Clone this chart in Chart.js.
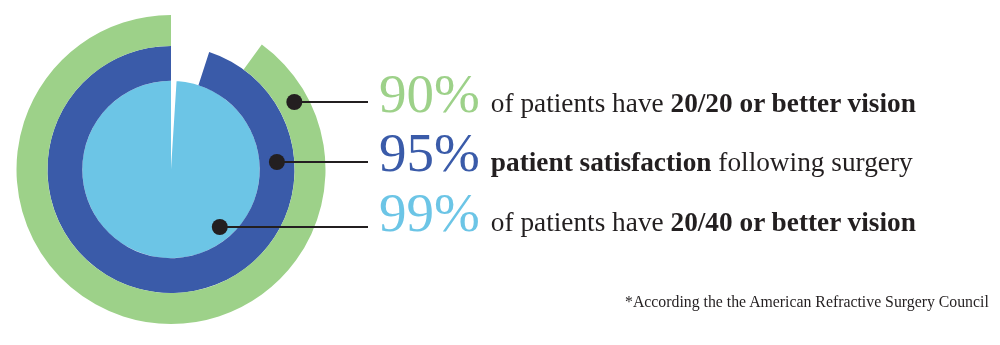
<!DOCTYPE html>
<html>
<head>
<meta charset="utf-8">
<script src="https://cdn.jsdelivr.net/npm/chart.js@4"></script>
<style>
    html, body { margin: 0; padding: 0; background: #fff; }
    #wrap { position: relative; width: 1000px; height: 345px; overflow: hidden; }
    #rings { position: absolute; left: 0; top: 0; }
    .row {
        position: absolute; left: 379px; white-space: nowrap;
        font-family: "Liberation Serif", "DejaVu Serif", serif;
        font-size: 55px; line-height: 55px; color: #231f20;
    }
    .row .pct { font-size: 55px; }
    .row .txt { font-size: 27.3px; margin-left: 11px; }
    .row b { font-weight: bold; }
    #note {
        position: absolute; left: 625px; top: 293px; white-space: nowrap;
        font-family: "Liberation Serif", "DejaVu Serif", serif;
        font-size: 15.8px; color: #231f20;
    }
</style>
</head>
<body>
<div id="wrap">
    <canvas id="rings" width="1000" height="345"></canvas>
    <div class="row" id="row0" style="top:66px"><span class="pct" style="color:#9dd189">90%</span><span class="txt">of patients have <b>20/20 or better vision</b></span></div>
    <div class="row" id="row1" style="top:125px"><span class="pct" style="color:#3a5ba9">95%</span><span class="txt"><b>patient satisfaction</b> following surgery</span></div>
    <div class="row" id="row2" style="top:185px"><span class="pct" style="color:#6cc5e6">99%</span><span class="txt">of patients have <b>20/40 or better vision</b></span></div>
    <div id="note">*According the the American Refractive Surgery Council</div>
</div>
<script>
// values (outer ring first)
const seriesNames = ["20/20 or better vision", "patient satisfaction", "20/40 or better vision"];
const percents = [90, 95, 99];
const ringColors = ["#9dd189", "#3a5ba9", "#6cc5e6"];

// ring thickness (outer -> inner) and leader layout
const ringWeights = [31, 35, 89];
const leaderY = [102, 162, 227];
const leaderDepth = [0.55, 0.5, 0.85]; // where the dot sits inside each ring
const leaderEndX = 368;

// draws the black dots + horizontal lines out to the text
const leaderPlugin = {
    id: "leaders",
    afterDraw(chart) {
        let ctx = chart.ctx;
        ctx.save();
        ctx.strokeStyle = "#231f20";
        ctx.fillStyle = "#231f20";
        ctx.lineWidth = 2;
        chart.data.datasets.forEach((ds, i) => {
            let arc = chart.getDatasetMeta(i).data[1];
            let p = arc.getProps(["x", "y", "innerRadius", "outerRadius"], true);
            let r = p.innerRadius + leaderDepth[i] * (p.outerRadius - p.innerRadius);
            let dy = leaderY[i] - p.y;
            let dx = Math.sqrt(Math.max(r * r - dy * dy, 0));
            let x = p.x + dx;
            ctx.beginPath();
            ctx.moveTo(x, leaderY[i]);
            ctx.lineTo(leaderEndX, leaderY[i]);
            ctx.stroke();
            ctx.beginPath();
            ctx.arc(x, leaderY[i], 8, 0, Math.PI * 2);
            ctx.fill();
        });
        ctx.restore();
    }
};

let ctx = document.getElementById("rings").getContext("2d");
new Chart(ctx, {
    type: "doughnut",
    data: {
        labels: ["gap", "value"],
        datasets: percents.map((p, i) => ({
            label: seriesNames[i],
            data: [100 - p, p],
            backgroundColor: ["rgba(0,0,0,0)", ringColors[i]],
            borderWidth: 0,
            weight: ringWeights[i],
        })),
    },
    options: {
        responsive: false,
        animation: false,
        cutout: 0,
        rotation: 0,
        layout: { padding: { left: 16, top: 15, right: 674, bottom: 21 } },
        plugins: {
            legend: { display: false },
            tooltip: { enabled: false },
        },
        events: [],
    },
    plugins: [leaderPlugin],
});
</script>
</body>
</html>
